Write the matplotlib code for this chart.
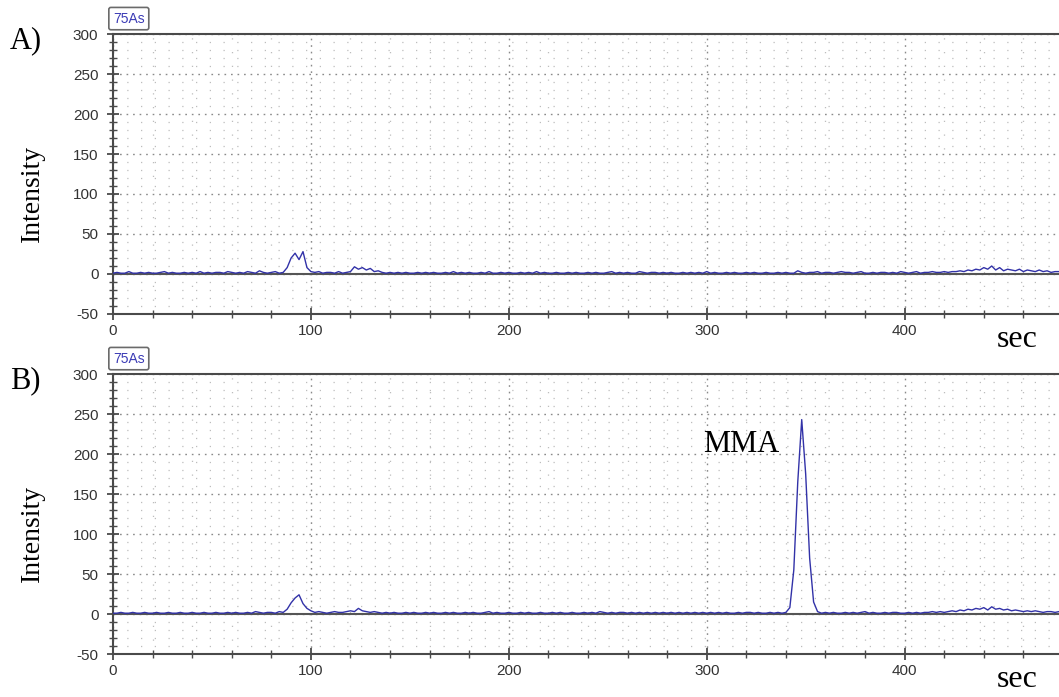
import numpy as np
import matplotlib
matplotlib.use("Agg")
import matplotlib.pyplot as plt
from matplotlib.ticker import MultipleLocator

plt.rcParams["axes.unicode_minus"] = False

# sampling times (s)
time_s = np.arange(0, 480, 2)

# Panel A intensities (every 2 s)
intensity_a = [
    1, 2, 1, 1, 3, 1, 1, 2, 1, 2, 1, 1, 2, 3, 1, 2, 1, 1, 2, 1,
    2, 1, 3, 1, 2, 1, 2, 2, 1, 3, 2, 1, 2, 1, 3, 2, 1, 4, 2, 1,
    2, 3, 1, 2, 8, 20, 26, 18, 28, 8, 3, 2, 3, 1, 2, 2, 1, 3, 1, 2,
    3, 9, 6, 8, 5, 7, 3, 4, 2, 1, 2, 1, 2, 1, 2, 1, 1, 2, 1, 2,
    1, 2, 1, 1, 2, 1, 3, 1, 2, 1, 2, 1, 1, 2, 1, 3, 1, 1, 2, 1,
    2, 1, 1, 2, 1, 2, 1, 3, 1, 2, 1, 1, 2, 1, 1, 2, 1, 2, 1, 1,
    2, 1, 2, 1, 1, 2, 3, 1, 2, 1, 2, 1, 1, 3, 2, 1, 2, 2, 1, 2,
    1, 2, 1, 1, 2, 1, 2, 1, 2, 1, 3, 1, 2, 1, 1, 2, 1, 2, 1, 1,
    2, 1, 2, 1, 1, 2, 1, 1, 2, 1, 2, 1, 1, 4, 2, 1, 2, 2, 3, 1,
    2, 2, 1, 2, 3, 2, 2, 1, 2, 3, 1, 1, 2, 1, 2, 2, 1, 2, 1, 3,
    2, 1, 2, 3, 1, 2, 2, 3, 2, 2, 3, 2, 3, 3, 4, 3, 5, 4, 6, 5,
    8, 6, 10, 5, 8, 4, 6, 5, 4, 6, 3, 5, 4, 3, 5, 3, 4, 2, 3, 3,
]

# Panel B intensities (every 2 s)
intensity_b = [
    1, 1, 2, 1, 1, 2, 1, 1, 2, 1, 1, 2, 1, 1, 2, 1, 1, 2, 1, 1,
    2, 1, 1, 2, 1, 1, 2, 1, 1, 2, 1, 2, 1, 1, 2, 1, 3, 2, 1, 2,
    2, 1, 3, 2, 6, 14, 20, 24, 13, 7, 4, 2, 3, 2, 1, 2, 3, 2, 2, 3,
    4, 3, 7, 4, 3, 2, 3, 2, 1, 2, 1, 2, 1, 1, 2, 1, 2, 1, 1, 2,
    1, 2, 1, 1, 2, 1, 2, 1, 1, 2, 1, 2, 1, 1, 2, 3, 1, 2, 1, 1,
    2, 1, 1, 2, 1, 2, 1, 1, 2, 1, 1, 2, 1, 2, 1, 1, 2, 1, 1, 2,
    1, 2, 1, 3, 2, 1, 2, 1, 2, 2, 1, 2, 1, 2, 1, 2, 1, 2, 1, 2,
    1, 2, 1, 2, 1, 2, 1, 2, 1, 2, 1, 2, 1, 2, 1, 2, 1, 1, 2, 1,
    2, 2, 1, 2, 1, 1, 2, 1, 2, 1, 2, 8, 55, 165, 243, 175, 70, 15, 3, 1,
    2, 1, 2, 1, 1, 2, 1, 2, 1, 2, 3, 1, 2, 1, 1, 2, 1, 2, 2, 1,
    1, 2, 1, 2, 1, 2, 2, 3, 2, 3, 2, 3, 4, 3, 5, 4, 6, 5, 7, 6,
    8, 5, 9, 6, 7, 5, 6, 4, 5, 4, 3, 4, 3, 4, 3, 2, 3, 3, 2, 3,
]

panels = [("A)", intensity_a, None), ("B)", intensity_b, "MMA")]

fig = plt.figure(figsize=(10.59, 6.97), dpi=100)
fig.patch.set_facecolor("white")

axes_rects = [
    [113 / 1059, 1 - 314 / 697, 1 - 113 / 1059, 280 / 697],
    [113 / 1059, 1 - 654 / 697, 1 - 113 / 1059, 280 / 697],
]
serif = ["Liberation Serif", "DejaVu Serif"]
sans = ["Liberation Sans", "DejaVu Sans"]
line_color = "#3232a8"

for (label, vals, ann), rect in zip(panels, axes_rects):
    ax = fig.add_axes(rect)
    ax.plot(time_s, vals, color=line_color, lw=1.0, zorder=3)
    ax.set_xlim(0, 478)
    ax.set_ylim(-50, 300)
    ax.axhline(0, color="#555555", lw=1.5, zorder=2)

    ax.xaxis.set_major_locator(MultipleLocator(100))
    ax.xaxis.set_minor_locator(MultipleLocator(20))
    ax.yaxis.set_major_locator(MultipleLocator(50))
    ax.yaxis.set_minor_locator(MultipleLocator(10))

    ax.grid(which="major", color="#8a8a8a", linestyle=(0, (1.2, 3.5)), lw=1.0)
    ax.grid(which="minor", color="#bdbdbd", linestyle=(0, (1.0, 10)), lw=0.9)
    ax.set_axisbelow(True)

    ax.spines["right"].set_visible(False)
    for s in ["left", "bottom", "top"]:
        ax.spines[s].set_color("#4a4a4a")
        ax.spines[s].set_linewidth(1.5)

    ax.tick_params(axis="both", which="major", direction="inout", length=9,
                   width=1.3, color="#4a4a4a", labelsize=11, labelcolor="#333333")
    ax.tick_params(axis="both", which="minor", direction="inout", length=6,
                   width=1.0, color="#4a4a4a")
    ax.tick_params(axis="x", which="major", pad=3)
    ax.tick_params(axis="y", which="major", pad=6)
    for t in ax.get_xticklabels() + ax.get_yticklabels():
        t.set_family(sans)

    ax.set_ylabel("Intensity", family=serif, fontsize=20)
    ax.yaxis.set_label_coords(-0.072, 0.43)

    ax.text(-0.109, 0.975, label, transform=ax.transAxes, family=serif,
            fontsize=22, ha="left", va="center")
    ax.text(0.0, 1.055, "75As", transform=ax.transAxes,
            family=sans, fontsize=10,
            color="#3b3bb5", ha="left", va="center",
            bbox=dict(boxstyle="round,pad=0.3,rounding_size=0.15",
                      fc="white", ec="#6a6a6a", lw=1.2))
    ax.text(0.934, -0.09, "sec", transform=ax.transAxes, family=serif,
            fontsize=23, ha="left", va="center")
    if ann:
        peak_i = int(np.argmax(vals))
        ax.annotate(ann, xy=(time_s[peak_i], vals[peak_i]),
                    xytext=(-71, -18), textcoords="offset points",
                    family=serif, fontsize=22, ha="left", va="center")

fig.savefig("out.png", dpi=100)
